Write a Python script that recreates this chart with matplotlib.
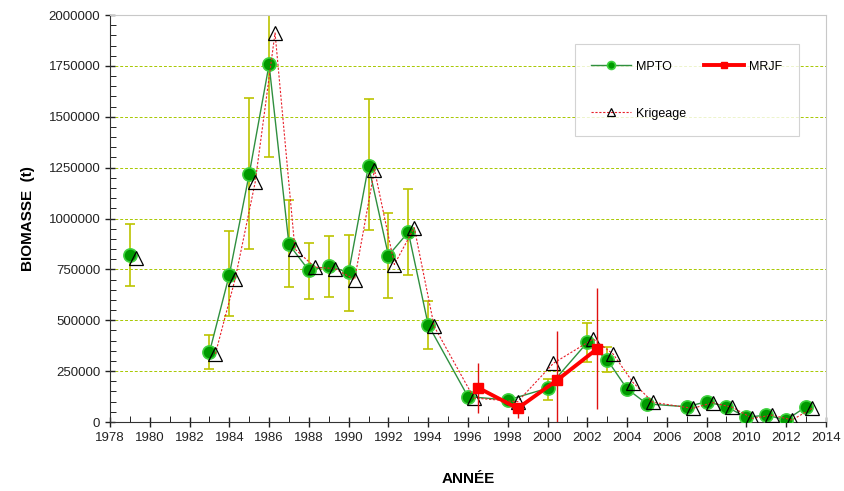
"""Biomass estimates per year: MPTO, MRJF and Krigeage."""

import matplotlib.pyplot as plt
import numpy as np
from matplotlib.ticker import FuncFormatter, MultipleLocator

plt.rcParams["font.family"] = ["Liberation Sans", "DejaVu Sans"]

# MPTO estimates with confidence bounds (nan = no visible bar)
mpto_years = np.array([1979, 1983, 1984, 1985, 1986, 1987, 1988, 1989, 1990, 1991,
                       1992, 1993, 1994, 1996, 1998, 2000, 2002, 2003, 2004, 2005,
                       2007, 2008, 2009, 2010, 2011, 2012, 2013])
mpto = np.array([820000, 342000, 723000, 1218000, 1757000, 873000, 745000, 766000,
                 735000, 1259000, 818000, 933000, 478000, 125000, 108000, 166000,
                 391000, 306000, 163000, 89000, 75000, 100000, 75000, 23000, 34000,
                 10000, 75000])
nan = np.nan
mpto_low = np.array([670000, 260000, 519000, 851000, 1300000, 664000, 606000, 615000,
                     547000, 942000, 610000, 721000, 360000, nan, nan, 108000,
                     294000, 248000, nan, nan, nan, nan, nan, nan, nan, nan, nan])
mpto_high = np.array([975000, 426000, 938000, 1590000, 2250000, 1092000, 878000, 914000,
                      919000, 1588000, 1029000, 1147000, 593000, nan, nan, 210000,
                      487000, 371000, nan, nan, nan, nan, nan, nan, nan, nan, nan])

# Krigeage estimates
krig_years = np.array([1979.3, 1983.3, 1984.3, 1985.3, 1986.3, 1987.3, 1988.3, 1989.3,
                       1990.3, 1991.3, 1992.3, 1993.3, 1994.3, 1996.3, 1998.5, 2000.3,
                       2002.3, 2003.3, 2004.3, 2005.3, 2007.3, 2008.3, 2009.3, 2010.3,
                       2011.3, 2012.3, 2013.3])
krig = np.array([805000, 335000, 705000, 1178000, 1912000, 850000, 761000, 754000,
                 700000, 1240000, 774000, 955000, 470000, 118000, 100000, 289000,
                 408000, 334000, 194000, 97000, 67000, 95000, 72000, 18000, 34000,
                 10000, 67000])

# MRJF estimates with bounds
mrjf_years = np.array([1996.5, 1998.5, 2000.5, 2002.5])
mrjf = np.array([169000, 67000, 207000, 360000])
mrjf_low = np.array([43000, 20000, -30000, 62000])
mrjf_high = np.array([290000, 84000, 445000, 660000])

fig = plt.figure(figsize=(8.44, 4.91), dpi=100)
ax = fig.add_axes([0.1303, 0.1405, 0.8483, 0.8289])

# error bars for MPTO
has_err = ~np.isnan(mpto_low)
ax.errorbar(mpto_years[has_err], mpto[has_err],
            yerr=[mpto[has_err] - mpto_low[has_err], mpto_high[has_err] - mpto[has_err]],
            fmt="none", ecolor="#bcc400", elinewidth=1.2, capsize=3.5, capthick=1.2,
            zorder=2)

# MPTO line (1979 stands alone)
first = mpto_years < 1980
circle_style = dict(color="#2f8f3f", lw=1.0, marker="o", markersize=9.5,
                    markerfacecolor="#009a00", markeredgecolor="#3fd23f",
                    markeredgewidth=1.2, zorder=3)
ax.plot(mpto_years[first], mpto[first], **circle_style)
mpto_line, = ax.plot(mpto_years[~first], mpto[~first], **circle_style)

# Krigeage line
first_k = krig_years < 1980
tri_style = dict(color="#e8202a", lw=0.8, ls=(0, (2, 1.5)), marker="^", markersize=10,
                 markerfacecolor="none", markeredgecolor="black",
                 markeredgewidth=0.9, zorder=4)
ax.plot(krig_years[first_k], krig[first_k], **tri_style)
krig_line, = ax.plot(krig_years[~first_k], krig[~first_k], **tri_style)

# MRJF
ax.vlines(mrjf_years, mrjf_low, mrjf_high, color="#e01010", lw=1.0, zorder=5)
mrjf_line, = ax.plot(mrjf_years, mrjf, color="#ff0000", lw=2.8, marker="s",
                     markersize=7.5, markerfacecolor="#ff0000",
                     markeredgecolor="#ff0000", zorder=6)

ax.set_xlim(1978, 2014)
ax.set_ylim(0, 2000000)
ax.xaxis.set_major_locator(MultipleLocator(2))
ax.xaxis.set_minor_locator(MultipleLocator(1))
ax.yaxis.set_major_locator(MultipleLocator(250000))
ax.yaxis.set_minor_locator(MultipleLocator(50000))
ax.yaxis.set_major_formatter(FuncFormatter(lambda v, _: f"{v:.0f}"))
ax.tick_params(axis="both", which="major", direction="inout", length=7, width=1,
               labelsize=9.5, colors="#222222")
ax.tick_params(axis="y", which="minor", direction="in", length=4)
ax.tick_params(axis="x", which="minor", direction="in", length=4)
ax.yaxis.grid(True, which="major", color="#a8c800", ls=(0, (3, 2)), lw=0.7)
ax.set_axisbelow(True)

for side in ("top", "right"):
    ax.spines[side].set_color("#c8c8c8")
for side in ("left", "bottom"):
    ax.spines[side].set_color("#333333")

ax.set_ylabel("BIOMASSE  (t)", fontsize=11, fontweight="bold", labelpad=10)
ax.set_xlabel("ANNÉE", fontsize=11, fontweight="bold", labelpad=20)

leg = ax.legend([mpto_line, krig_line, mrjf_line], ["MPTO", "Krigeage", "MRJF"],
                ncol=2, loc="upper left", bbox_to_anchor=(0.641, 0.943),
                fontsize=9, frameon=True, fancybox=False, edgecolor="#c8c8c8",
                labelspacing=2.8, columnspacing=1.4, handlelength=3.2,
                handletextpad=0.4, borderpad=1.3, markerscale=0.6)
leg.get_frame().set_linewidth(0.8)

fig.savefig("out.png", dpi=100)
